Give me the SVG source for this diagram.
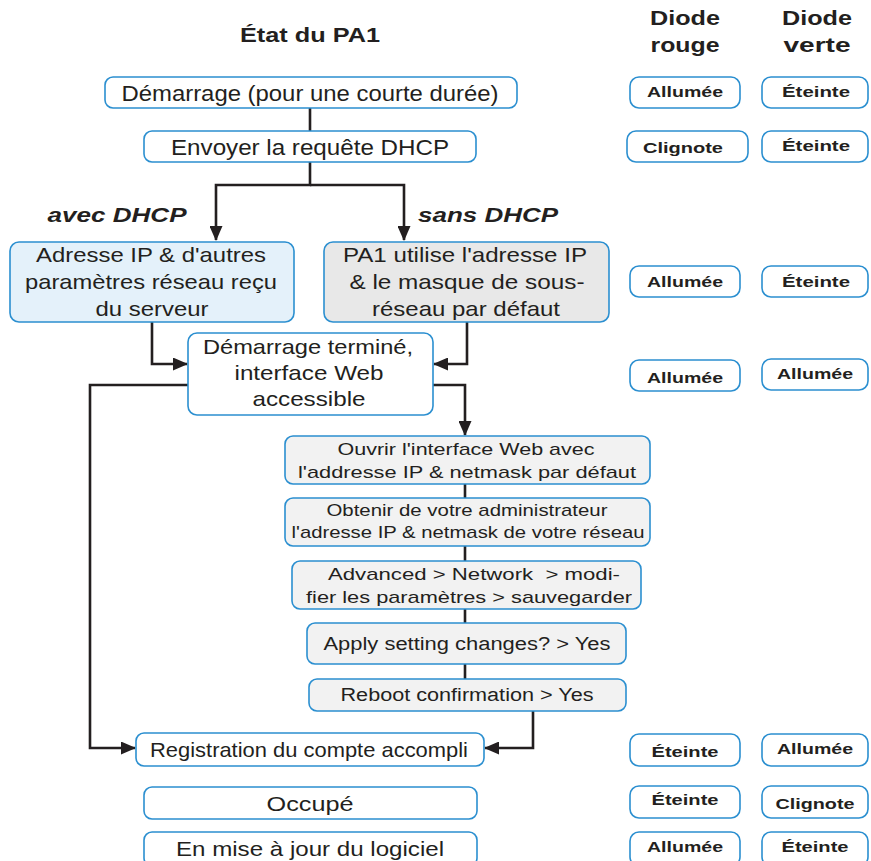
<svg xmlns="http://www.w3.org/2000/svg" width="871" height="861" viewBox="0 0 871 861">
<style>
text{font-family:"Liberation Sans",Arial,sans-serif;fill:#231f20;text-anchor:middle}
.box{stroke:#2b8fd0;stroke-width:1.6;fill:#fff}
.blue{fill:#e4f1fa}
.grey{fill:#e8e8e8}
.lg{fill:#f2f2f2}
.t22{font-size:22px}
.t21{font-size:21px}
.t17{font-size:17px}
.t18{font-size:18px}
.led{font-size:15px;font-weight:bold}
.hd{font-size:21px;font-weight:bold}
.lbl{font-size:20px;font-weight:bold;font-style:italic}
.con{fill:none;stroke:#231f20;stroke-width:2.6}
</style>
<defs>
<marker id="ah" markerUnits="userSpaceOnUse" markerWidth="15" markerHeight="13" refX="14" refY="6.5" orient="auto">
<path d="M0,0 L15,6.5 L0,13 z" fill="#231f20"/>
</marker>
</defs>
<rect width="871" height="861" fill="#fff"/>
<g id="headers">
<text class="hd" x="310" y="42" textLength="140" lengthAdjust="spacingAndGlyphs">État du PA1</text>
<text class="hd" x="685" y="25" textLength="70" lengthAdjust="spacingAndGlyphs">Diode</text>
<text class="hd" x="685" y="52" textLength="69" lengthAdjust="spacingAndGlyphs">rouge</text>
<text class="hd" x="817" y="25" textLength="70" lengthAdjust="spacingAndGlyphs">Diode</text>
<text class="hd" x="817" y="52" textLength="67" lengthAdjust="spacingAndGlyphs">verte</text>
</g>
<g id="connectors">
<path class="con" d="M310,108 V131"/>
<path class="con" d="M310,162 V185 H216 V240" marker-end="url(#ah)"/>
<path class="con" d="M310,185 H404 V240" marker-end="url(#ah)"/>
<path class="con" d="M152,322 V364 H187" marker-end="url(#ah)"/>
<path class="con" d="M467,322 V364 H434" marker-end="url(#ah)"/>
<path class="con" d="M188,385 H90 V748 H135" marker-end="url(#ah)"/>
<path class="con" d="M433,385 H465 V435" marker-end="url(#ah)"/>
<path class="con" d="M465,484 V498 M465,546 V561 M465,609 V623 M465,664 V679"/>
<path class="con" d="M533,711 V748 H485" marker-end="url(#ah)"/>
</g>
<g id="labels">
<text class="lbl" x="117" y="222" textLength="139" lengthAdjust="spacingAndGlyphs">avec DHCP</text>
<text class="lbl" x="488" y="222" textLength="140" lengthAdjust="spacingAndGlyphs">sans DHCP</text>
</g>
<g id="n1">
<rect class="box" x="105" y="77" width="412" height="31" rx="8"/>
<text class="t22" x="310" y="101" textLength="377" lengthAdjust="spacingAndGlyphs">Démarrage (pour une courte durée)</text>
</g>
<g id="n2">
<rect class="box" x="144" y="131" width="332" height="31" rx="8"/>
<text class="t22" x="310" y="155" textLength="278" lengthAdjust="spacingAndGlyphs">Envoyer la requête DHCP</text>
</g>
<g id="n3">
<rect class="box blue" x="10" y="242" width="284" height="80" rx="9"/>
<text class="t21" x="151" y="262" textLength="230" lengthAdjust="spacingAndGlyphs">Adresse IP &amp; d'autres</text>
<text class="t21" x="151" y="289" textLength="252" lengthAdjust="spacingAndGlyphs">paramètres réseau reçu</text>
<text class="t21" x="152" y="316" textLength="113" lengthAdjust="spacingAndGlyphs">du serveur</text>
</g>
<g id="n4">
<rect class="box grey" x="324" y="242" width="285" height="80" rx="9"/>
<text class="t21" x="465" y="262" textLength="244" lengthAdjust="spacingAndGlyphs">PA1 utilise l'adresse IP</text>
<text class="t21" x="467" y="289" textLength="235" lengthAdjust="spacingAndGlyphs">&amp; le masque de sous-</text>
<text class="t21" x="466" y="316" textLength="188" lengthAdjust="spacingAndGlyphs">réseau par défaut</text>
</g>
<g id="n5">
<rect class="box" x="188" y="333" width="245" height="82" rx="9"/>
<text class="t21" x="308" y="354" textLength="210" lengthAdjust="spacingAndGlyphs">Démarrage terminé,</text>
<text class="t21" x="309" y="380" textLength="149" lengthAdjust="spacingAndGlyphs">interface Web</text>
<text class="t21" x="309" y="406" textLength="113" lengthAdjust="spacingAndGlyphs">accessible</text>
</g>
<g id="n6">
<rect class="box lg" x="285" y="436" width="365" height="48" rx="8"/>
<text class="t17" x="466" y="455" textLength="257" lengthAdjust="spacingAndGlyphs">Ouvrir l'interface Web avec</text>
<text class="t17" x="467" y="478" textLength="338" lengthAdjust="spacingAndGlyphs">l'addresse IP &amp; netmask par défaut</text>
</g>
<g id="n7">
<rect class="box lg" x="285" y="498" width="365" height="48" rx="8"/>
<text class="t17" x="467" y="516" textLength="281" lengthAdjust="spacingAndGlyphs">Obtenir de votre administrateur</text>
<text class="t17" x="468" y="538" textLength="353" lengthAdjust="spacingAndGlyphs">l'adresse IP &amp; netmask de votre réseau</text>
</g>
<g id="n8">
<rect class="box lg" x="292" y="561" width="349" height="48" rx="8"/>
<text class="t17" x="474" y="580" textLength="292" lengthAdjust="spacingAndGlyphs">Advanced &gt; Network &#160;&gt; modi-</text>
<text class="t17" x="469" y="603" textLength="326" lengthAdjust="spacingAndGlyphs">fier les paramètres &gt; sauvegarder</text>
</g>
<g id="n9">
<rect class="box lg" x="307" y="623" width="319" height="41" rx="8"/>
<text class="t18" x="467" y="650" textLength="287" lengthAdjust="spacingAndGlyphs">Apply setting changes? &gt; Yes</text>
</g>
<g id="n10">
<rect class="box lg" x="309" y="679" width="317" height="32" rx="8"/>
<text class="t18" x="467" y="701" textLength="253" lengthAdjust="spacingAndGlyphs">Reboot confirmation &gt; Yes</text>
</g>
<g id="n11">
<rect class="box" x="136" y="733" width="348" height="33" rx="8"/>
<text class="t21" x="309" y="757" textLength="318" lengthAdjust="spacingAndGlyphs">Registration du compte accompli</text>
</g>
<g id="n12">
<rect class="box" x="144" y="787" width="333" height="32" rx="8"/>
<text class="t21" x="310" y="811" textLength="87" lengthAdjust="spacingAndGlyphs">Occupé</text>
</g>
<g id="n13">
<rect class="box" x="144" y="832" width="333" height="34" rx="8"/>
<text class="t21" x="310" y="856" textLength="268" lengthAdjust="spacingAndGlyphs">En mise à jour du logiciel</text>
</g>
<g id="leds">
<g id="l1r"><rect class="box" x="630" y="77" width="110" height="31" rx="9"/><text class="led" x="685" y="97" textLength="76" lengthAdjust="spacingAndGlyphs">Allumée</text></g>
<g id="l1v"><rect class="box" x="762" y="77" width="106" height="31" rx="9"/><text class="led" x="816" y="97" textLength="68" lengthAdjust="spacingAndGlyphs">Éteinte</text></g>
<g id="l2r"><rect class="box" x="627" y="131" width="121" height="31" rx="9"/><text class="led" x="683" y="153" textLength="80" lengthAdjust="spacingAndGlyphs">Clignote</text></g>
<g id="l2v"><rect class="box" x="762" y="131" width="106" height="31" rx="9"/><text class="led" x="816" y="151" textLength="68" lengthAdjust="spacingAndGlyphs">Éteinte</text></g>
<g id="l3r"><rect class="box" x="630" y="266" width="110" height="31" rx="9"/><text class="led" x="685" y="287" textLength="76" lengthAdjust="spacingAndGlyphs">Allumée</text></g>
<g id="l3v"><rect class="box" x="762" y="266" width="106" height="31" rx="9"/><text class="led" x="816" y="287" textLength="68" lengthAdjust="spacingAndGlyphs">Éteinte</text></g>
<g id="l4r"><rect class="box" x="630" y="360" width="110" height="31" rx="9"/><text class="led" x="685" y="383" textLength="76" lengthAdjust="spacingAndGlyphs">Allumée</text></g>
<g id="l4v"><rect class="box" x="762" y="359" width="106" height="31" rx="9"/><text class="led" x="815" y="379" textLength="76" lengthAdjust="spacingAndGlyphs">Allumée</text></g>
<g id="l5r"><rect class="box" x="630" y="734" width="110" height="32" rx="9"/><text class="led" x="685" y="757" textLength="67" lengthAdjust="spacingAndGlyphs">Éteinte</text></g>
<g id="l5v"><rect class="box" x="762" y="734" width="106" height="32" rx="9"/><text class="led" x="815" y="754" textLength="76" lengthAdjust="spacingAndGlyphs">Allumée</text></g>
<g id="l6r"><rect class="box" x="630" y="786" width="110" height="32" rx="9"/><text class="led" x="685" y="805" textLength="67" lengthAdjust="spacingAndGlyphs">Éteinte</text></g>
<g id="l6v"><rect class="box" x="762" y="786" width="106" height="32" rx="9"/><text class="led" x="815" y="809" textLength="79" lengthAdjust="spacingAndGlyphs">Clignote</text></g>
<g id="l7r"><rect class="box" x="630" y="832" width="110" height="34" rx="9"/><text class="led" x="685" y="852" textLength="76" lengthAdjust="spacingAndGlyphs">Allumée</text></g>
<g id="l7v"><rect class="box" x="762" y="832" width="106" height="34" rx="9"/><text class="led" x="815" y="852" textLength="67" lengthAdjust="spacingAndGlyphs">Éteinte</text></g>
</g>
</svg>
